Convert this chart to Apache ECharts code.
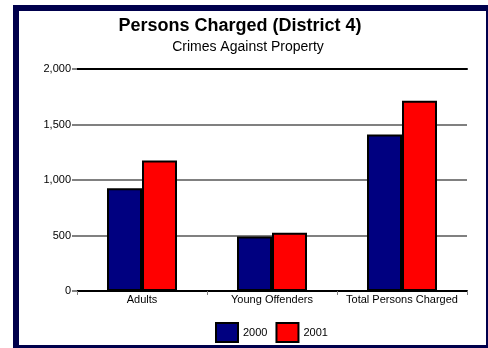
<!DOCTYPE html>
<html>
<head>
<meta charset="utf-8">
<style>
  html, body { margin: 0; padding: 0; background: #ffffff; }
  #chart { width: 488px; height: 348px; }
</style>
<script src="https://cdn.jsdelivr.net/npm/echarts@6/dist/echarts.min.js"></script>
</head>
<body>
<div id="chart"></div>
<script>
// Persons charged in District 4, crimes against property
var categories = ['Adults', 'Young Offenders', 'Total Persons Charged'];
var years = ['2000', '2001'];
var charged2000 = [925, 490, 1410];
var charged2001 = [1175, 525, 1715];
var yTicks = [0, 500, 1000, 1500, 2000];

var FONT = '"Liberation Sans", Arial, sans-serif';
var chart = echarts.init(document.getElementById('chart'), null, { renderer: 'canvas' });

chart.setOption({
  backgroundColor: '#ffffff',
  animation: false,
  title: [
    {
      text: 'Persons Charged (District 4)',
      left: 240, top: 17, textAlign: 'center', padding: 0,
      textStyle: { fontFamily: FONT, fontSize: 18, fontWeight: 'bold', color: '#000' }
    },
    {
      text: 'Crimes Against Property',
      left: 248, top: 40, textAlign: 'center', padding: 0,
      textStyle: { fontFamily: FONT, fontSize: 14, fontWeight: 'normal', color: '#000' }
    }
  ],
  legend: {
    data: years,
    left: 215, top: 322, padding: 0,
    itemWidth: 22, itemHeight: 19, itemGap: 8,
    icon: 'rect',
    textStyle: { fontFamily: FONT, fontSize: 11, color: '#000' },
    selectedMode: false
  },
  grid: { left: 77, right: 21, top: 69, bottom: 57, containLabel: false },
  xAxis: [
    {
      type: 'category',
      data: categories,
      axisLine: { show: true, lineStyle: { color: '#000', width: 2 } },
      axisTick: { show: true, alignWithLabel: false, length: 4, lineStyle: { color: '#808080', width: 1 } },
      axisLabel: { margin: 3, fontFamily: FONT, fontSize: 11, color: '#000', interval: 0 },
      splitLine: { show: false }
    },
    {
      // heavy rule along the top of the plot at the 2,000 level
      type: 'category',
      data: categories,
      position: 'top',
      axisLine: { show: true, lineStyle: { color: '#000', width: 2 } },
      axisTick: { show: false },
      axisLabel: { show: false },
      splitLine: { show: false }
    }
  ],
  yAxis: {
    type: 'value',
    min: yTicks[0],
    max: yTicks[yTicks.length - 1],
    interval: yTicks[1] - yTicks[0],
    axisLine: { show: false },
    axisTick: { show: true, length: 5, lineStyle: { color: '#808080', width: 2 } },
    axisLabel: { margin: 6, fontFamily: FONT, fontSize: 11, color: '#000' },
    splitLine: { show: true, lineStyle: { color: '#808080', width: 2 } }
  },
  series: [
    {
      name: years[0],
      type: 'bar',
      data: charged2000,
      barWidth: 35,
      barGap: '0%',
      itemStyle: { color: '#000080', borderColor: '#000', borderWidth: 2 }
    },
    {
      name: years[1],
      type: 'bar',
      data: charged2001,
      barWidth: 35,
      barGap: '0%',
      itemStyle: { color: '#ff0000', borderColor: '#000', borderWidth: 2 }
    }
  ],
  graphic: [
    {
      // navy page frame
      type: 'rect',
      shape: { x: 16, y: 8, width: 473, height: 340 },
      style: { fill: 'none', stroke: '#00004c', lineWidth: 6 },
      silent: true
    }
  ]
});
</script>
</body>
</html>
